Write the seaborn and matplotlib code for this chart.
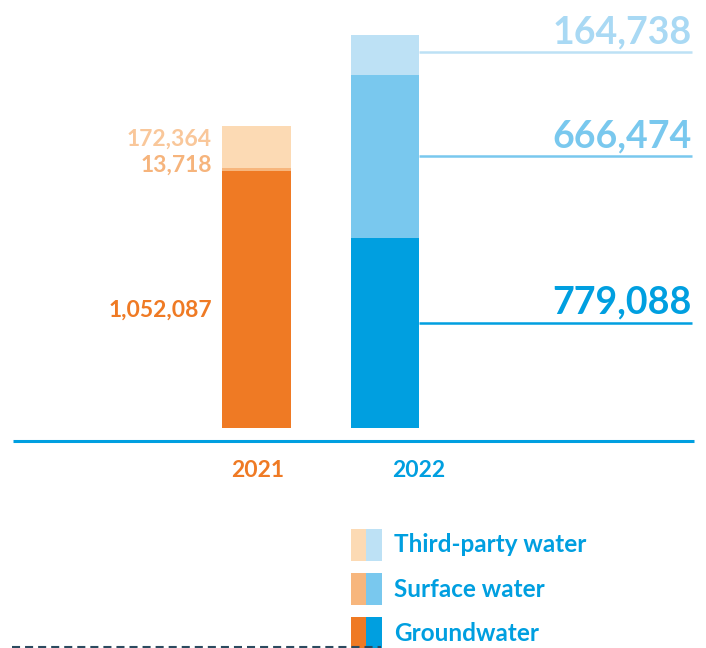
import matplotlib
matplotlib.use("Agg")
import matplotlib.pyplot as plt
from matplotlib.lines import Line2D
from matplotlib.patches import Rectangle
import seaborn as sns
import pandas as pd

# ---- data ----
years = ["2021", "2022"]
groundwater = [1052087, 779088]
surface_water = [13718, 666474]
third_party = [172364, 164738]
legend_labels = ["Third-party water", "Surface water", "Groundwater"]

# ---- colours ----
ORANGE = {"ground": "#EF7A24", "surface": "#F7B67D", "third": "#FCDAB4"}
BLUE = {"ground": "#009FE0", "surface": "#79C8EE", "third": "#BDE1F5"}
TXT_OR = {"ground": "#EF7A24", "surface": "#F6B47C", "third": "#F9C79A"}
TXT_BL = {"ground": "#009FE0", "surface": "#79C8EE", "third": "#A9D9F4"}

plt.rcParams["font.family"] = ["Lato", "DejaVu Sans"]
plt.rcParams["lines.scale_dashes"] = False

W, H = 706, 648
fig = plt.figure(figsize=(W / 100, H / 100), dpi=100)
ax = fig.add_axes([0, 0, 1, 1])

df = pd.DataFrame({"year": years, "ground": groundwater,
                   "surface": surface_water, "third": third_party})
df["cum_surface"] = df["ground"] + df["surface"]
df["cum_third"] = df["cum_surface"] + df["third"]

layers = [("cum_third", "third"), ("cum_surface", "surface"), ("ground", "ground")]
for col, key in layers:
    sns.barplot(data=df, x="year", y=col, hue="year",
                palette=[ORANGE[key], BLUE[key]], width=0.533,
                saturation=1, errorbar=None, legend=False,
                linewidth=0, ax=ax)

# map axes so that bar geometry matches the reference layout
S = 4098.0          # value per pixel
x0, dx = 256.5, 128.5
ax.set_xlim(-x0 / dx, (W - x0) / dx)
ax.set_ylim(-(H - 428) * S, 428 * S)
ax.axis("off")


def F(x, y):
    return x / W, 1 - y / H


def hline(x1, x2, y, color, lw, **kw):
    (a, b), (c, d) = F(x1, y), F(x2, y)
    fig.add_artist(Line2D([a, c], [b, d], transform=fig.transFigure,
                          color=color, lw=lw, solid_capstyle="butt", **kw))


WEIGHT = "bold"

# baseline
hline(13, 694, 441, BLUE["ground"], 2.2)

# 2021 value labels
fs_small = 16.5
for val, key, yb in [(third_party[0], "third", 146),
                     (surface_water[0], "surface", 172),
                     (groundwater[0], "ground", 317)]:
    fig.text(*F(212, yb), f"{val:,}", ha="right", va="baseline",
             fontsize=fs_small, fontweight=WEIGHT, color=TXT_OR[key])

# 2022 value labels with leader lines
for val, key, yb, yl in [(third_party[1], "third", 43, 52),
                         (surface_water[1], "surface", 147, 156),
                         (groundwater[1], "ground", 313, 323)]:
    fig.text(*F(692, yb), f"{val:,}", ha="right", va="baseline",
             fontsize=27, fontweight=WEIGHT, color=TXT_BL[key])
    hline(419, 692, yl, BLUE[key], 1.8)

# year labels
fig.text(*F(257.5, 477), years[0], ha="center", va="baseline",
         fontsize=fs_small, fontweight=WEIGHT, color=ORANGE["ground"])
fig.text(*F(419, 477), years[1], ha="center", va="baseline",
         fontsize=fs_small, fontweight=WEIGHT, color=BLUE["ground"])

# legend (two-colour swatches)
rows = [("third", 529, 552), ("surface", 573, 597), ("ground", 617, 641)]
for (key, ytop, ybase), label in zip(rows, legend_labels):
    for xl, pal in [(351, ORANGE), (366, BLUE)]:
        xa, yb = F(xl, ytop + 32)
        fig.add_artist(Rectangle((xa, yb), 16 / W, 32 / H,
                                 transform=fig.transFigure,
                                 facecolor=pal[key], edgecolor="none"))
    fig.text(*F(394, ybase), label, ha="left", va="baseline",
             fontsize=17.5, fontweight=WEIGHT, color=BLUE["ground"])

# dashed line at bottom
hline(12, 381, 647, "#2B4A5F", 1.5, dashes=(5.8, 3.6))

fig.savefig("out.png", dpi=100)
